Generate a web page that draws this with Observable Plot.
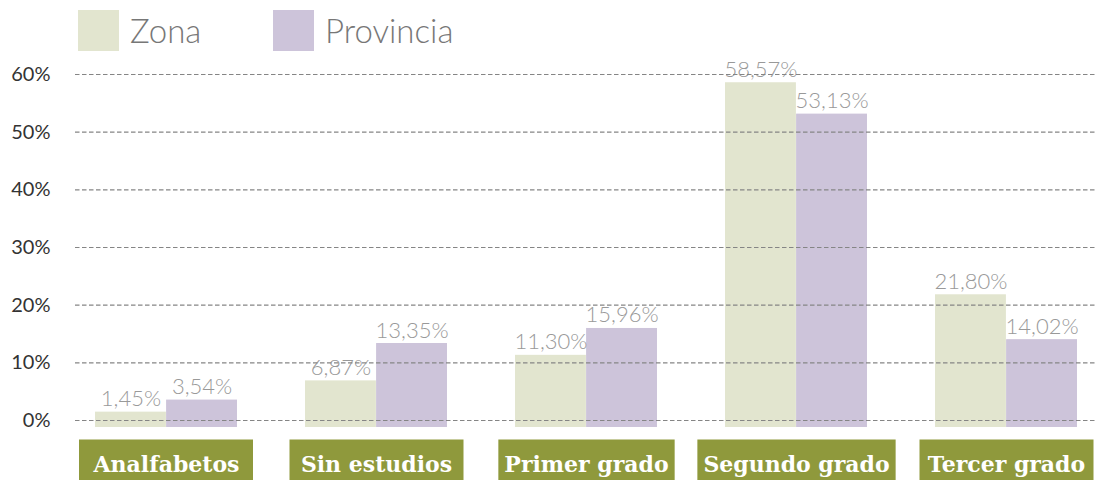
<!DOCTYPE html>
<html>
<head>
<meta charset="utf-8">
<script src="https://cdn.jsdelivr.net/npm/d3@7"></script>
<script src="https://cdn.jsdelivr.net/npm/@observablehq/plot@0.6"></script>
<style>
  html, body { margin: 0; padding: 0; background: #fff; }
  #wrap { position: relative; width: 1097px; height: 480px; overflow: hidden; }
  #legend { position: absolute; left: 0; top: 0; }
  #chart { position: absolute; left: 0; top: 0; }
</style>
</head>
<body>
<div id="wrap"><div id="chart"></div><svg id="legend" width="1097" height="60"></svg></div>
<script>
const categories = ["Analfabetos", "Sin estudios", "Primer grado", "Segundo grado", "Tercer grado"];
const series = ["Zona", "Provincia"];
const zona = [1.45, 6.87, 11.30, 58.57, 21.80];
const provincia = [3.54, 13.35, 15.96, 53.13, 14.02];
const yTicks = [0, 10, 20, 30, 40, 50, 60];
const colors = ["#e2e5cf", "#cdc4da"];

const W = 1097, H = 480;
const mL = 75, mR = 0, mT = 74, mB = 60;
const padIn = 0.326, padOut = 0.085;

const bw = d3.scaleBand().domain(categories).range([mL, W - mR]).paddingInner(padIn).paddingOuter(padOut).bandwidth();

const zData = categories.map((c, i) => ({cat: c, v: zona[i]}));
const pData = categories.map((c, i) => ({cat: c, v: provincia[i]}));
const fmt = d => d.v.toFixed(2).replace(".", ",") + "%";

const plot = Plot.plot({
  width: W, height: H,
  marginLeft: mL, marginRight: mR, marginTop: mT, marginBottom: mB,
  x: {domain: categories, paddingInner: padIn, paddingOuter: padOut, axis: null},
  y: {domain: [0, 60], axis: null},
  style: {fontFamily: "Lato", background: "transparent", overflow: "visible"},
  marks: [
    Plot.barY(zData, {x: "cat", y: "v", fill: colors[0], insetLeft: 0, insetRight: bw / 2, insetBottom: -7}),
    Plot.barY(pData, {x: "cat", y: "v", fill: colors[1], insetLeft: bw / 2, insetRight: 0, insetBottom: -7}),
    Plot.text(zData, {x: "cat", y: "v", text: fmt, dx: -bw / 4, dy: -6, lineAnchor: "bottom", fill: "#999", fontSize: 22, fontWeight: 300}),
    Plot.text(pData, {x: "cat", y: "v", text: fmt, dx: bw / 4, dy: -6, lineAnchor: "bottom", fill: "#999", fontSize: 22, fontWeight: 300}),
    Plot.ruleY(yTicks, {stroke: "#858585", strokeWidth: 1.2, strokeDasharray: "4.5,2.5"}),
    Plot.axisY(yTicks, {tickSize: 0, tickPadding: 25, tickFormat: d => d + "%", fontSize: 20, fill: "#333", textAnchor: "end", label: null}),
    Plot.text(categories, {x: d => d, text: d => d, frameAnchor: "bottom", dy: 44, lineAnchor: "middle", fill: "white",
      fontFamily: "DejaVu Serif", fontWeight: "bold", fontSize: 22})
  ]
});
document.getElementById("chart").appendChild(plot);

// label boxes behind category texts
Array.from(plot.querySelectorAll("text"))
  .filter(t => categories.includes(t.textContent))
  .forEach(t => {
    const bb = t.getBBox();
    const r = document.createElementNS("http://www.w3.org/2000/svg", "rect");
    const tr = t.getAttribute("transform");
    if (tr) r.setAttribute("transform", tr);
    const w = Math.max(174, bb.width + 12);
    const cx = bb.x + bb.width / 2;
    r.setAttribute("x", cx - w / 2);
    r.setAttribute("width", w);
    r.setAttribute("y", -25);
    r.setAttribute("height", 45);
    r.setAttribute("fill", "#8f993c");
    t.parentNode.insertBefore(r, t.parentNode.firstChild);
  });

// legend
const leg = d3.select("#legend");
const legX = [78, 273];
series.forEach((s, i) => {
  leg.append("rect").attr("x", legX[i]).attr("y", 10).attr("width", 41).attr("height", 41).attr("fill", colors[i]);
  leg.append("text").attr("x", legX[i] + 52).attr("y", 43).attr("font-family", "Lato").attr("font-size", 33)
    .attr("font-weight", 300).attr("fill", "#777").text(s);
});
</script>
</body>
</html>
